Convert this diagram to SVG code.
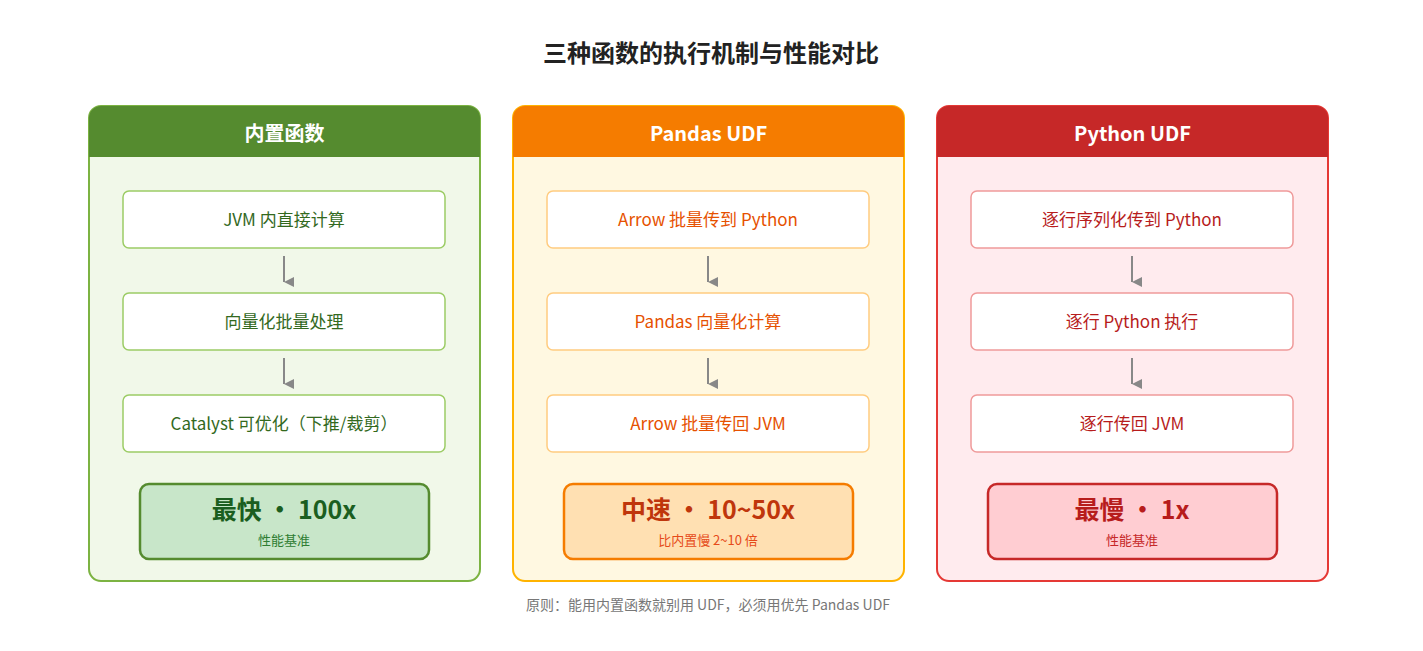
<svg xmlns="http://www.w3.org/2000/svg" width="1423" height="651" viewBox="0 0 1423 651">
<defs>
<marker id="ah" viewBox="0 0 10 10" refX="5" refY="10" markerWidth="10" markerHeight="10" markerUnits="userSpaceOnUse" orient="auto-start-reverse"><path d="M0,0 L10,0 L5,10 z" fill="#888"/></marker>
</defs>
<style>
text{font-family:"Noto Sans CJK SC","Noto Sans",sans-serif;text-anchor:middle}
.t{font-size:24px;font-weight:bold;fill:#222}
.h{font-size:20px;font-weight:bold;fill:#fff}
.s{font-size:17px}
.b{font-size:25px;font-weight:bold}
.sub{font-size:13px}
.box{fill:#fff;stroke-width:1.5}
.ar{stroke:#888;stroke-width:2;fill:none;marker-end:url(#ah)}
</style>
<rect width="1423" height="651" fill="#fff"/>
<text class="t" x="711" y="62">三种函数的执行机制与性能对比</text>

<g id="builtin">
<rect x="89" y="106" width="391" height="475" rx="12" fill="#F1F8E9" stroke="#7CB342" stroke-width="2"/>
<path d="M89,157 V118 a12,12 0 0 1 12,-12 H468 a12,12 0 0 1 12,12 V157 z" fill="#558B2F"/>
<text class="h" x="284.5" y="141">内置函数</text>
<rect class="box" x="123" y="191" width="322" height="57" rx="6" stroke="#9CCC65"/>
<text class="s" x="284" y="226" fill="#33691E">JVM 内直接计算</text>
<rect class="box" x="123" y="293" width="322" height="57" rx="6" stroke="#9CCC65"/>
<text class="s" x="284" y="328" fill="#33691E">向量化批量处理</text>
<rect class="box" x="123" y="395" width="322" height="57" rx="6" stroke="#9CCC65"/>
<text class="s" x="284" y="430" fill="#33691E">Catalyst 可优化（下推/裁剪）</text>
<rect x="140" y="484" width="289" height="75" rx="9" fill="#C8E6C9" stroke="#558B2F" stroke-width="2.5"/>
<text class="b" x="284" y="519" fill="#1B5E20">最快 • 100x</text>
<text class="sub" x="284" y="545" fill="#2E7D32">性能基准</text>
</g>

<g id="pandas">
<rect x="513" y="106" width="391" height="475" rx="12" fill="#FFF8E1" stroke="#FFB300" stroke-width="2"/>
<path d="M513,157 V118 a12,12 0 0 1 12,-12 H892 a12,12 0 0 1 12,12 V157 z" fill="#F57C00"/>
<text class="h" x="708.5" y="141">Pandas UDF</text>
<rect class="box" x="547" y="191" width="322" height="57" rx="6" stroke="#FFCC80"/>
<text class="s" x="708" y="226" fill="#E65100">Arrow 批量传到 Python</text>
<rect class="box" x="547" y="293" width="322" height="57" rx="6" stroke="#FFCC80"/>
<text class="s" x="708" y="328" fill="#E65100">Pandas 向量化计算</text>
<rect class="box" x="547" y="395" width="322" height="57" rx="6" stroke="#FFCC80"/>
<text class="s" x="708" y="430" fill="#E65100">Arrow 批量传回 JVM</text>
<rect x="564" y="484" width="289" height="75" rx="9" fill="#FFE0B2" stroke="#F57C00" stroke-width="2.5"/>
<text class="b" x="708" y="519" fill="#BF360C">中速 • 10~50x</text>
<text class="sub" x="708" y="545" fill="#E64A19">比内置慢 2~10 倍</text>
</g>

<g id="python">
<rect x="937" y="106" width="391" height="475" rx="12" fill="#FFEBEE" stroke="#E53935" stroke-width="2"/>
<path d="M937,157 V118 a12,12 0 0 1 12,-12 H1316 a12,12 0 0 1 12,12 V157 z" fill="#C62828"/>
<text class="h" x="1132.5" y="141">Python UDF</text>
<rect class="box" x="971" y="191" width="322" height="57" rx="6" stroke="#EF9A9A"/>
<text class="s" x="1132" y="226" fill="#B71C1C">逐行序列化传到 Python</text>
<rect class="box" x="971" y="293" width="322" height="57" rx="6" stroke="#EF9A9A"/>
<text class="s" x="1132" y="328" fill="#B71C1C">逐行 Python 执行</text>
<rect class="box" x="971" y="395" width="322" height="57" rx="6" stroke="#EF9A9A"/>
<text class="s" x="1132" y="430" fill="#B71C1C">逐行传回 JVM</text>
<rect x="988" y="484" width="289" height="75" rx="9" fill="#FFCDD2" stroke="#C62828" stroke-width="2.5"/>
<text class="b" x="1132" y="519" fill="#B71C1C">最慢 • 1x</text>
<text class="sub" x="1132" y="545" fill="#C62828">性能基准</text>
</g>

<g id="connectors">
<line class="ar" x1="284" y1="256" x2="284" y2="282"/>
<line class="ar" x1="284" y1="358" x2="284" y2="384"/>
<line class="ar" x1="708" y1="256" x2="708" y2="282"/>
<line class="ar" x1="708" y1="358" x2="708" y2="384"/>
<line class="ar" x1="1132" y1="256" x2="1132" y2="282"/>
<line class="ar" x1="1132" y1="358" x2="1132" y2="384"/>
</g>

<text x="708" y="610" font-size="14" fill="#777">原则：能用内置函数就别用 UDF，必须用优先 Pandas UDF</text>
</svg>
